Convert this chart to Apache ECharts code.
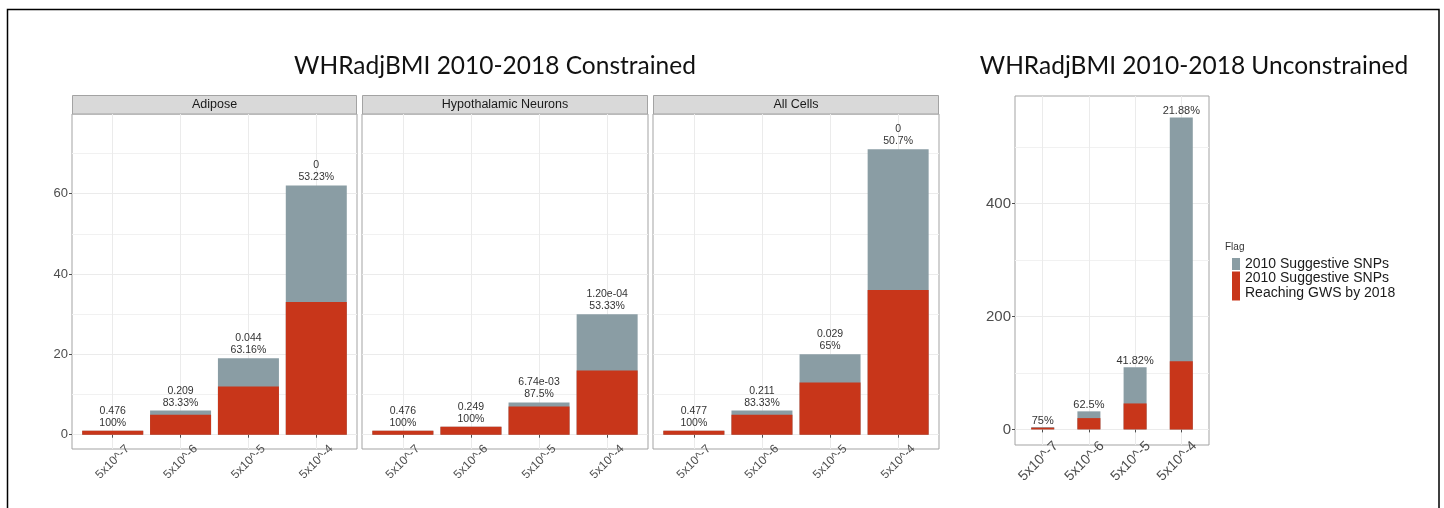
<!DOCTYPE html>
<html>
<head>
<meta charset="utf-8">
<script src="https://cdn.jsdelivr.net/npm/echarts@6/dist/echarts.min.js"></script>
<style>
  html, body { margin: 0; padding: 0; background: #fff; }
  #chart { width: 1444px; height: 508px; }
</style>
</head>
<body>
<div id="chart"></div>
<script>
// ---- data ----
const categories = ['5x10^-7', '5x10^-6', '5x10^-5', '5x10^-4'];
const facetNames = ['Adipose', 'Hypothalamic Neurons', 'All Cells'];

const adiposeTotal   = [1, 6, 19, 62];
const adiposeReached = [1, 5, 12, 33];
const adiposeP       = ['0.476', '0.209', '0.044', '0'];
const adiposePct     = ['100%', '83.33%', '63.16%', '53.23%'];

const hypoTotal   = [1, 2, 8, 30];
const hypoReached = [1, 2, 7, 16];
const hypoP       = ['0.476', '0.249', '6.74e-03', '1.20e-04'];
const hypoPct     = ['100%', '100%', '87.5%', '53.33%'];

const allTotal   = [1, 6, 20, 71];
const allReached = [1, 5, 13, 36];
const allP       = ['0.477', '0.211', '0.029', '0'];
const allPct     = ['100%', '83.33%', '65%', '50.7%'];

const uncTotal   = [4, 32, 110, 553];
const uncReached = [3, 20, 46, 121];
const uncPct     = ['75%', '62.5%', '41.82%', '21.88%'];

const constrainedTicks = [0, 20, 40, 60];
const constrainedMinor = [10, 30, 50, 70];
const uncTicks = [0, 200, 400];
const uncMinor = [100, 300, 500];

const titleTexts = ['WHRadjBMI 2010-2018 Constrained', 'WHRadjBMI 2010-2018 Unconstrained'];
const legendTitle = 'Flag';
const GREY_NAME = '2010 Suggestive SNPs';
const RED_NAME = '2010 Suggestive SNPs Reaching GWS by 2018';

// ---- styling ----
const GREY = '#8A9DA4';
const RED = '#C8361A';
const FRAME = '#a3a3a3';
const GRID_MAJOR = '#ebebeb';
const GRID_MINOR = '#f1f1f1';
const TICK_TEXT = '#4d4d4d';
const FONT = 'Liberation Sans, Arial, sans-serif';

// facet panels: three constrained panels sharing a y scale, plus one free panel
const panels = [
  { left: 72,   top: 114, width: 285, height: 335, total: adiposeTotal, reached: adiposeReached, p: adiposeP, pct: adiposePct, strip: facetNames[0] },
  { left: 362,  top: 114, width: 286, height: 335, total: hypoTotal,    reached: hypoReached,    p: hypoP,    pct: hypoPct,    strip: facetNames[1] },
  { left: 653,  top: 114, width: 286, height: 335, total: allTotal,     reached: allReached,     p: allP,     pct: allPct,     strip: facetNames[2] },
  { left: 1015, top: 96,  width: 194, height: 349, total: uncTotal,     reached: uncReached,     p: null,     pct: uncPct,     strip: null }
];
const constrainedRange = [-3.55, 79.8];
const uncRange = [-27.65, 591];

const xPos = categories.map((c, i) => i + 1);

const grid = [], xAxis = [], yAxis = [], series = [];

panels.forEach((pn, i) => {
  const free = i === 3;
  const range = free ? uncRange : constrainedRange;
  const bandPx = pn.width / 4.2;
  const barW = Math.round(bandPx * (free ? 0.5 : 0.9));

  grid.push({
    left: pn.left, top: pn.top, width: pn.width, height: pn.height,
    show: true, backgroundColor: '#fff', borderColor: FRAME, borderWidth: 1,
    containLabel: false, outerBoundsMode: 'none'
  });

  xAxis.push({
    type: 'value', gridIndex: i, min: 0.4, max: 4.6,
    axisLine: { show: false },
    axisTick: { show: true, customValues: xPos, length: 3, lineStyle: { color: TICK_TEXT } },
    axisLabel: {
      customValues: xPos,
      formatter: v => categories[Math.round(v) - 1],
      rotate: 45, align: 'center', verticalAlign: 'middle',
      padding: free ? [0, 12, 0, 0] : 0,
      fontSize: free ? 14 : 12, color: TICK_TEXT, fontFamily: FONT, margin: free ? 12 : 13
    },
    splitLine: { show: true, lineStyle: { color: GRID_MAJOR, width: 1 } }
  });

  // major y axis (labels on the first and the free panel only)
  const showY = i === 0 || free;
  yAxis.push({
    type: 'value', gridIndex: i, min: range[0], max: range[1],
    axisLine: { show: false },
    axisTick: { show: showY, customValues: free ? uncTicks : constrainedTicks, length: 3, lineStyle: { color: TICK_TEXT } },
    axisLabel: { show: showY, customValues: free ? uncTicks : constrainedTicks, fontSize: free ? 15 : 13, color: TICK_TEXT, fontFamily: FONT, margin: 4 },
    splitLine: { show: true, lineStyle: { color: GRID_MAJOR, width: 1 } }
  });
  // minor y grid lines
  yAxis.push({
    type: 'value', gridIndex: i, min: range[0], max: range[1], position: 'left',
    axisLine: { show: false },
    axisTick: { show: false, customValues: free ? uncMinor : constrainedMinor },
    axisLabel: { show: false, customValues: free ? uncMinor : constrainedMinor },
    splitLine: { show: true, lineStyle: { color: GRID_MINOR, width: 1 } }
  });

  series.push({
    type: 'bar', name: GREY_NAME, xAxisIndex: i, yAxisIndex: i * 2,
    barWidth: barW, barGap: '-100%',
    itemStyle: { color: GREY },
    data: pn.total.map((v, k) => [xPos[k], v]),
    label: {
      show: true, position: 'top', distance: free ? 0 : 2,
      fontFamily: FONT, fontSize: free ? 11 : 10.5, lineHeight: 12, color: '#333',
      formatter: prm => free ? pn.pct[prm.dataIndex] : pn.p[prm.dataIndex] + '\n' + pn.pct[prm.dataIndex]
    },
    silent: true, animation: false
  });
  series.push({
    type: 'bar', name: RED_NAME, xAxisIndex: i, yAxisIndex: i * 2,
    barWidth: barW, barGap: '-100%',
    itemStyle: { color: RED },
    data: pn.reached.map((v, k) => [xPos[k], v]),
    silent: true, animation: false
  });
});

// strips, titles, frame and legend heading
const graphic = [
  { type: 'rect', silent: true, z: 100, shape: { x: 7.5, y: 9.5, width: 1431.5, height: 520 }, style: { fill: 'none', stroke: '#000', lineWidth: 1.5 } },
  { type: 'text', silent: true, x: 495, y: 66, style: { text: titleTexts[0], fontFamily: 'Lato, sans-serif', fontSize: 24.5, fill: '#111', align: 'center', verticalAlign: 'middle' } },
  { type: 'text', silent: true, x: 1194, y: 66, style: { text: titleTexts[1], fontFamily: 'Lato, sans-serif', fontSize: 24.5, fill: '#111', align: 'center', verticalAlign: 'middle' } },
  { type: 'text', silent: true, x: 1225, y: 247, style: { text: legendTitle, fontFamily: FONT, fontSize: 10, fill: '#333', align: 'left', verticalAlign: 'middle' } }
];
panels.forEach(pn => {
  if (!pn.strip) return;
  graphic.push({ type: 'rect', silent: true, shape: { x: pn.left + 0.5, y: 95.5, width: pn.width - 1, height: 18.5 }, style: { fill: '#d9d9d9', stroke: FRAME, lineWidth: 1 } });
  graphic.push({ type: 'text', silent: true, x: pn.left + pn.width / 2, y: 105, style: { text: pn.strip, fontFamily: FONT, fontSize: 12.5, fill: '#1a1a1a', align: 'center', verticalAlign: 'middle' } });
});

const option = {
  backgroundColor: '#fff',
  animation: false,
  grid, xAxis, yAxis, series, graphic,
  legend: [
    {
      left: 1232, top: 257, padding: 0, itemWidth: 8, itemHeight: 12, icon: 'rect',
      selectedMode: false, data: [GREY_NAME],
      textStyle: { fontFamily: FONT, fontSize: 14, color: '#1a1a1a' }
    },
    {
      left: 1232, top: 271, padding: 0, itemWidth: 8, itemHeight: 29, icon: 'rect',
      selectedMode: false, data: [RED_NAME],
      formatter: n => n.replace(' Reaching', '\nReaching'),
      textStyle: { fontFamily: FONT, fontSize: 14, lineHeight: 15, color: '#1a1a1a' }
    }
  ]
};

const chart = echarts.init(document.getElementById('chart'), null, { renderer: 'canvas' });
chart.setOption(option);
</script>
</body>
</html>
